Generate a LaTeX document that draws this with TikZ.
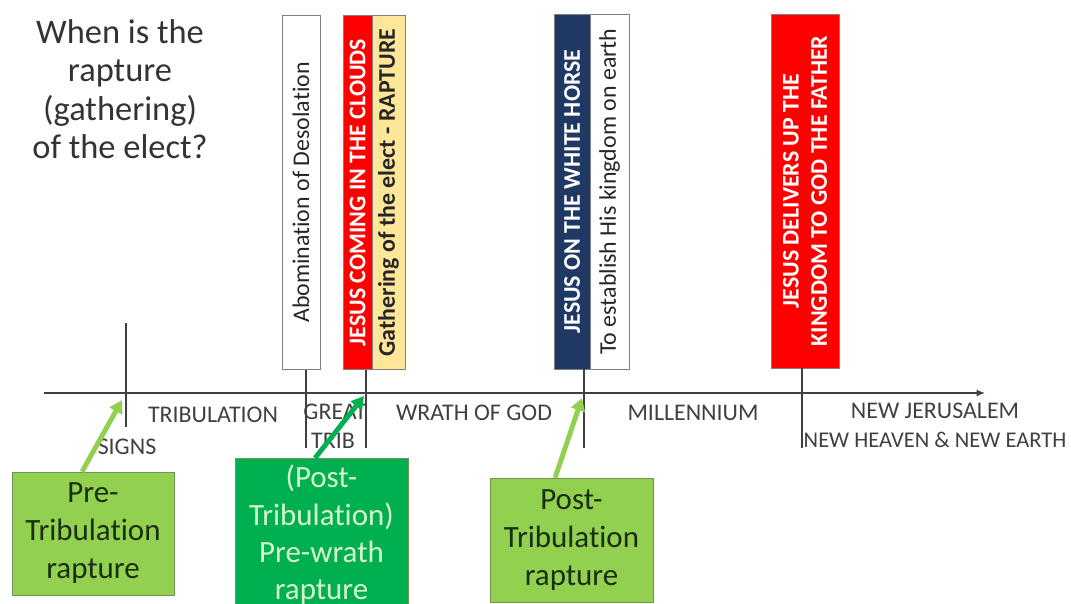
\documentclass[tikz,border=0pt]{standalone}
\usepackage{fontspec}
\setmainfont{Carlito}[Ligatures=NoCommon]
\usepackage{xcolor}
\usetikzlibrary{arrows.meta}

\definecolor{lightgreen}{RGB}{146,208,80}
\definecolor{darkgreen}{RGB}{0,176,80}
\definecolor{navyblue}{RGB}{31,56,100}
\definecolor{paleorange}{RGB}{255,230,153}
\definecolor{inkgray}{RGB}{64,64,64}
\definecolor{boxedge}{RGB}{110,150,80}
\definecolor{leafink}{RGB}{25,45,15}
\definecolor{paleink}{RGB}{215,245,205}

\begin{document}
\begin{tikzpicture}[x=0.025cm, y=-0.025cm,
    eventbox/.style={draw=gray, rotate=90, minimum width=8.85cm, inner sep=0pt, text=black!85, font=\fontsize{17}{20}\selectfont},
    boldbox/.style={eventbox, font=\fontsize{17}{20}\selectfont\bfseries},
    era/.style={text=inkgray, inner sep=0pt, font=\fontsize{17}{20}\selectfont},
    raptbox/.style={draw=boxedge, align=center, font=\fontsize{22}{27}\selectfont},
    tick/.style={draw=inkgray, line width=0.9pt},
    hit/.style={-{Triangle[length=9pt,width=10pt]}, line width=3.5pt}]
    \useasboundingbox (0,0) rectangle (1071,604);
    \clip (0,0) rectangle (1071,604);

    % Question
    \node[align=center, anchor=south, inner sep=0pt, text=black!80, font=\fontsize{24.5}{27.3}\selectfont] (title) at (120,159) {When is the\\rapture\\(gathering)\\of the elect?};

    % Events above the line
    \node[eventbox, fill=white, minimum height=0.95cm] (abom) at (301,192.5) {Abomination of Desolation};
    \node[boldbox, fill=red, text=white, minimum height=0.725cm] (clouds) at (357.5,192.5) {JESUS COMING IN THE CLOUDS};
    \node[boldbox, fill=paleorange, minimum height=0.825cm] (gather) at (388.5,192.5) {Gathering of the elect - RAPTURE};
    \node[boldbox, fill=navyblue, text=white, minimum height=0.9cm, minimum width=8.875cm] (horse) at (572,191.5) {JESUS ON THE WHITE HORSE};
    \node[eventbox, fill=white, minimum height=0.975cm, minimum width=8.875cm] (kingdom) at (609.5,191.5) {To establish His kingdom on earth};
    \node[boldbox, fill=red, text=white, align=center, minimum height=1.7cm] (father) at (805,191) {JESUS DELIVERS UP THE\\KINGDOM TO GOD THE FATHER};

    % Time line and ticks
    \coordinate (lstart) at (44,393);
    \coordinate (lend) at (985,393);
    \draw[inkgray, line width=1pt, -{Latex[length=6pt,width=5pt]}] (lstart) -- (lend);
    \coordinate (signstop) at (126,323);
    \coordinate (signsbot) at (126,427);
    \coordinate (abombot) at (306,448);
    \coordinate (cloudsbot) at (366,448);
    \coordinate (horsebot) at (584,448);
    \coordinate (fatherbot) at (802,448);
    \draw[tick] (signstop) -- (signsbot);
    \draw[tick] (abom.west -| abombot) -- (abombot);
    \draw[tick] (clouds.west -| cloudsbot) -- (cloudsbot);
    \draw[tick] (horse.west -| horsebot) -- (horsebot);
    \draw[tick] (father.west -| fatherbot) -- (fatherbot);

    % Periods
    \node[era] (trib) at (213,415) {TRIBULATION};
    \node[era] (signs) at (127,447) {SIGNS};
    \node[era] (great) at (335,412) {GREAT};
    \node[era] (gtrib) at (333,441) {TRIB};
    \node[era] (wrath) at (474,413) {WRATH OF GOD};
    \node[era] (mill) at (693,413) {MILLENNIUM};
    \node[era] (newjer) at (935,411) {NEW JERUSALEM};
    \node[era, font=\fontsize{16}{19}\selectfont] (newearth) at (935,440) {NEW HEAVEN \& NEW EARTH};

    % Rapture views
    \node[raptbox, fill=lightgreen, text=leafink, minimum width=4.05cm, minimum height=3.075cm] (pre) at (93,533.5) {Pre-\\Tribulation\\rapture};
    \node[raptbox, fill=darkgreen, text=paleink, minimum width=4.325cm, inner sep=5pt, anchor=north, font=\fontsize{22}{26.5}\selectfont] (prewrath) at (321.5,458) {(Post-\\Tribulation)\\Pre-wrath\\rapture};
    \node[raptbox, fill=lightgreen, text=leafink, minimum width=4.075cm, minimum height=3.1cm] (post) at (571.5,540) {Post-\\Tribulation\\rapture};

    \coordinate (prehit) at (122,400);
    \coordinate (prewrathhit) at (364,396);
    \coordinate (posthit) at (582,398);
    \draw[hit, lightgreen] ([xshift=-0.275cm]pre.north) -- (prehit);
    \draw[hit, darkgreen] ([xshift=-0.16cm]prewrath.north) -- (prewrathhit);
    \draw[hit, lightgreen] ([xshift=-0.41cm]post.north) -- (posthit);
\end{tikzpicture}
\end{document}
